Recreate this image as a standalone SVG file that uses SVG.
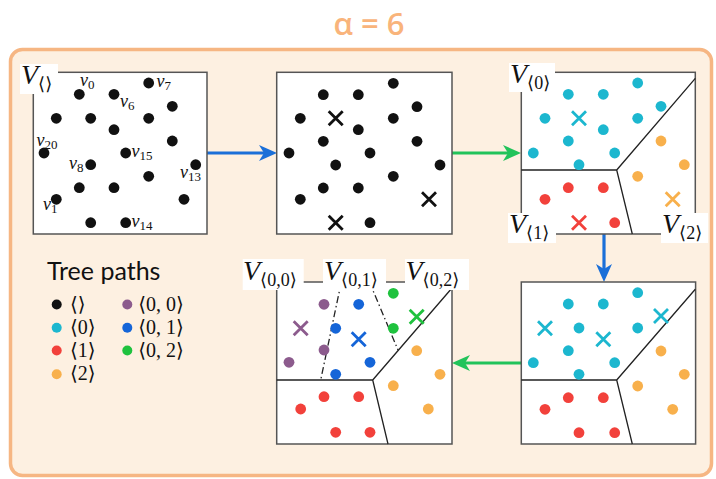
<svg xmlns="http://www.w3.org/2000/svg" xmlns:xlink="http://www.w3.org/1999/xlink" width="716" height="479" viewBox="0 0 716 479">
<style>
.panel{fill:#fff;stroke:#555;stroke-width:1.5}
.part{fill:none;stroke:#222;stroke-width:1.3}
.dd{fill:none;stroke:#222;stroke-width:1.3;stroke-dasharray:7 3 1.5 3}
.lbl{fill:#fff;stroke:none}
.V{font-family:"Liberation Serif","DejaVu Serif",serif;font-style:italic;font-size:28px;fill:#111}
.sub{font-family:"Liberation Serif","DejaVu Serif",serif;font-style:normal;font-size:18px;fill:#111}
.v{font-family:"Liberation Serif","DejaVu Serif",serif;font-style:italic;font-size:18px;fill:#111}
.vs{font-style:normal;font-size:13px}
.k{fill:#111}.c{fill:#1cb7cf}.r{fill:#f2413b}.o{fill:#f8b04c}.p{fill:#8c5b8d}.b{fill:#1565d8}.g{fill:#1fc23e}
.xk{stroke:#111}.xc{stroke:#1cb7cf}.xr{stroke:#f2413b}.xo{stroke:#f8b04c}.xp{stroke:#8c5b8d}.xb{stroke:#1565d8}.xg{stroke:#1fc23e}
.leg{font-family:"Liberation Serif","DejaVu Serif",serif;font-size:20px;fill:#111}
.arb{stroke:#1b6fd8;stroke-width:3.2;fill:none}
.arg{stroke:#22c35a;stroke-width:3.2;fill:none}
</style>
<defs>
<path id="xm" d="M-7,-7L7,7M7,-7L-7,7" fill="none" stroke-width="2.8"/>
<marker id="hb" viewBox="0 0 18 16" refX="10" refY="8" markerWidth="18" markerHeight="16" markerUnits="userSpaceOnUse" orient="auto"><path d="M0,0L18,8L0,16L5,8Z" fill="#1b6fd8"/></marker>
<marker id="hg" viewBox="0 0 18 16" refX="10" refY="8" markerWidth="18" markerHeight="16" markerUnits="userSpaceOnUse" orient="auto"><path d="M0,0L18,8L0,16L5,8Z" fill="#22c35a"/></marker>
</defs>

<text x="369" y="35" text-anchor="middle" font-family="Open Sans, sans-serif" font-size="31" font-weight="600" fill="#f9b47b">α = 6</text>
<rect x="10.5" y="49.5" width="701" height="426" rx="12" fill="#fdf0e1" stroke="#f6b683" stroke-width="3.5"/>

<g id="connectors">
<line class="arb" x1="207" y1="153" x2="269" y2="153" marker-end="url(#hb)"/>
<line class="arg" x1="452" y1="153" x2="513" y2="153" marker-end="url(#hg)"/>
<line class="arb" x1="604" y1="234" x2="604" y2="274" marker-end="url(#hb)"/>
<line class="arg" x1="521" y1="363" x2="460" y2="363" marker-end="url(#hg)"/>
</g>

<g id="panel-root">
<rect class="panel" x="33.3" y="72.3" width="173.7" height="161.7"/>
<g class="k">
<circle cx="79.3" cy="94.3" r="5.4"/><circle cx="114" cy="94.3" r="5.4"/><circle cx="148.7" cy="83" r="5.4"/><circle cx="172.3" cy="106.3" r="5.4"/>
<circle cx="56.3" cy="118.3" r="5.4"/><circle cx="90.7" cy="118.3" r="5.4"/><circle cx="148.7" cy="118.3" r="5.4"/><circle cx="114" cy="129.7" r="5.4"/>
<circle cx="172.3" cy="141" r="5.4"/><circle cx="44" cy="153" r="5.4"/><circle cx="125.7" cy="153" r="5.4"/><circle cx="90.7" cy="164.7" r="5.4"/>
<circle cx="195.7" cy="164.7" r="5.4"/><circle cx="148.7" cy="176.3" r="5.4"/><circle cx="79.3" cy="187.7" r="5.4"/><circle cx="114" cy="187.7" r="5.4"/>
<circle cx="56.3" cy="199.3" r="5.4"/><circle cx="184" cy="199.3" r="5.4"/><circle cx="90.7" cy="222.7" r="5.4"/><circle cx="125.7" cy="222.7" r="5.4"/>
</g>
<text class="v" x="80" y="85.5">v<tspan class="vs" dy="3">0</tspan></text>
<text class="v" x="156.5" y="86.5">v<tspan class="vs" dy="3">7</tspan></text>
<text class="v" x="120" y="106.5">v<tspan class="vs" dy="3">6</tspan></text>
<text class="v" x="36.5" y="146">v<tspan class="vs" dy="3">20</tspan></text>
<text class="v" x="131.5" y="156.5">v<tspan class="vs" dy="3">15</tspan></text>
<text class="v" x="69" y="168.5">v<tspan class="vs" dy="3">8</tspan></text>
<text class="v" x="180" y="178">v<tspan class="vs" dy="3">13</tspan></text>
<text class="v" x="43" y="210">v<tspan class="vs" dy="3">1</tspan></text>
<text class="v" x="131.5" y="226.5">v<tspan class="vs" dy="3">14</tspan></text>
<rect class="lbl" x="20" y="64" width="38" height="30"/>
<text class="V" x="21" y="84">V<tspan class="sub" dy="6">⟨⟩</tspan></text>
</g>

<g id="panel-centers">
<rect class="panel" x="276.7" y="72.3" width="175.3" height="161.7"/>
<g class="k">
<circle cx="323.3" cy="94.7" r="5.4"/><circle cx="358.3" cy="94.7" r="5.4"/><circle cx="393.3" cy="83.3" r="5.4"/><circle cx="417" cy="106.7" r="5.4"/>
<circle cx="300.3" cy="118.3" r="5.4"/><circle cx="393.3" cy="118.3" r="5.4"/><circle cx="358.3" cy="129.7" r="5.4"/>
<circle cx="323.3" cy="141.3" r="5.4"/><circle cx="417" cy="141.3" r="5.4"/><circle cx="289" cy="153" r="5.4"/><circle cx="370" cy="153" r="5.4"/>
<circle cx="335.7" cy="165" r="5.4"/><circle cx="440" cy="165" r="5.4"/><circle cx="393.3" cy="176.3" r="5.4"/><circle cx="323.3" cy="188" r="5.4"/>
<circle cx="358.3" cy="188" r="5.4"/><circle cx="300.3" cy="199.3" r="5.4"/><circle cx="370" cy="222.7" r="5.4"/>
</g>
<use href="#xm" class="xk" x="335.7" y="118.3"/>
<use href="#xm" class="xk" x="429" y="199.3"/>
<use href="#xm" class="xk" x="335.7" y="222.7"/>
</g>

<g id="panel-level1">
<rect class="panel" x="521.3" y="72.3" width="174" height="161.7"/>
<path class="part" d="M521.3,170H616.7L695.3,78.3M616.7,170L632.3,234"/>
<g class="c">
<circle cx="637.7" cy="83" r="5.4"/><circle cx="568.3" cy="94.3" r="5.4"/><circle cx="603.3" cy="94.3" r="5.4"/><circle cx="661" cy="106.3" r="5.4"/>
<circle cx="545" cy="118.3" r="5.4"/><circle cx="637.7" cy="118.3" r="5.4"/><circle cx="603.3" cy="129.7" r="5.4"/><circle cx="568.3" cy="141" r="5.4"/>
<circle cx="533.3" cy="153" r="5.4"/><circle cx="614.7" cy="153" r="5.4"/><circle cx="579" cy="164.7" r="5.4"/>
</g>
<g class="o"><circle cx="661" cy="141" r="5.4"/><circle cx="684.3" cy="164.7" r="5.4"/><circle cx="637.7" cy="176.3" r="5.4"/></g>
<g class="r"><circle cx="568.3" cy="187.7" r="5.4"/><circle cx="603.3" cy="187.7" r="5.4"/><circle cx="545" cy="199.3" r="5.4"/><circle cx="614.7" cy="222.7" r="5.4"/></g>
<use href="#xm" class="xc" x="579" y="118.3"/>
<use href="#xm" class="xo" x="672.7" y="199.3"/>
<use href="#xm" class="xr" x="579" y="222.7"/>
<rect class="lbl" x="509" y="63" width="46" height="29"/>
<text class="V" x="510" y="82.5">V<tspan class="sub" dy="6">⟨0⟩</tspan></text>
<rect class="lbl" x="508" y="213" width="48" height="30"/>
<text class="V" x="509" y="232.5">V<tspan class="sub" dy="6">⟨1⟩</tspan></text>
<rect class="lbl" x="661" y="213" width="47" height="30"/>
<text class="V" x="662" y="232.5">V<tspan class="sub" dy="6">⟨2⟩</tspan></text>
</g>

<g id="panel-subcenters">
<rect class="panel" x="521.3" y="282" width="174.3" height="162"/>
<path class="part" d="M521.3,380H616.7L695.3,289.3M616.7,380L632.3,444"/>
<g class="c">
<circle cx="637.7" cy="292.7" r="5.4"/><circle cx="568.3" cy="304" r="5.4"/><circle cx="603.3" cy="304" r="5.4"/>
<circle cx="579" cy="328" r="5.4"/><circle cx="637.7" cy="328" r="5.4"/><circle cx="568.3" cy="350.7" r="5.4"/>
<circle cx="533.3" cy="362.7" r="5.4"/><circle cx="614.7" cy="362.7" r="5.4"/><circle cx="579" cy="374.3" r="5.4"/>
</g>
<g class="o"><circle cx="661" cy="351" r="5.4"/><circle cx="684.3" cy="374.3" r="5.4"/><circle cx="637.7" cy="386" r="5.4"/><circle cx="672.7" cy="409.3" r="5.4"/></g>
<g class="r"><circle cx="568.3" cy="397.7" r="5.4"/><circle cx="603.3" cy="397.7" r="5.4"/><circle cx="545" cy="409.3" r="5.4"/><circle cx="579" cy="432.7" r="5.4"/><circle cx="614.7" cy="432.7" r="5.4"/></g>
<use href="#xm" class="xc" x="661" y="316"/>
<use href="#xm" class="xc" x="545" y="328.3"/>
<use href="#xm" class="xc" x="603.3" y="339.3"/>
</g>

<g id="panel-level2">
<rect class="panel" x="276.7" y="282" width="175.3" height="162"/>
<path class="part" d="M276.7,380H372.7L452,288M372.7,380L388,444"/>
<path class="dd" d="M341.3,282L320.7,380M369.4,282L398,350"/>
<g class="p"><circle cx="324" cy="304.3" r="5.4"/><circle cx="324" cy="350" r="5.4"/><circle cx="289" cy="362.3" r="5.4"/></g>
<g class="b"><circle cx="358.7" cy="304.3" r="5.4"/><circle cx="335.7" cy="328.3" r="5.4"/><circle cx="370" cy="362.3" r="5.4"/><circle cx="335.7" cy="374.3" r="5.4"/></g>
<g class="g"><circle cx="393.3" cy="293.3" r="5.4"/><circle cx="393.3" cy="328.3" r="5.4"/></g>
<g class="o"><circle cx="416.7" cy="350.7" r="5.4"/><circle cx="440" cy="374.3" r="5.4"/><circle cx="393.3" cy="385.7" r="5.4"/><circle cx="428.3" cy="409" r="5.4"/></g>
<g class="r"><circle cx="324" cy="396.7" r="5.4"/><circle cx="358.7" cy="396.7" r="5.4"/><circle cx="300.7" cy="409" r="5.4"/><circle cx="335.7" cy="432.3" r="5.4"/><circle cx="370" cy="432.3" r="5.4"/></g>
<use href="#xm" class="xp" x="300.7" y="328.3"/>
<use href="#xm" class="xb" x="358.7" y="339.3"/>
<use href="#xm" class="xg" x="416.7" y="316.7"/>
<rect class="lbl" x="242.7" y="259" width="61" height="31"/>
<text class="V" x="243" y="280">V<tspan class="sub" dy="6">⟨0,0⟩</tspan></text>
<rect class="lbl" x="323" y="259" width="63" height="31"/>
<text class="V" x="324" y="280">V<tspan class="sub" dy="6">⟨0,1⟩</tspan></text>
<rect class="lbl" x="405" y="259" width="64" height="31"/>
<text class="V" x="405.5" y="280">V<tspan class="sub" dy="6">⟨0,2⟩</tspan></text>
</g>

<g id="legend">
<text x="47" y="280" font-family="Lato, sans-serif" font-size="25" fill="#111">Tree paths</text>
<circle class="k" cx="56.7" cy="304.5" r="5"/><text class="leg" x="70" y="311">⟨⟩</text>
<circle class="c" cx="56.7" cy="327.7" r="5"/><text class="leg" x="70" y="333.5">⟨0⟩</text>
<circle class="r" cx="56.7" cy="350.5" r="5"/><text class="leg" x="70" y="356.5">⟨1⟩</text>
<circle class="o" cx="56.7" cy="374.3" r="5"/><text class="leg" x="70" y="380">⟨2⟩</text>
<circle class="p" cx="127.3" cy="304.5" r="5"/><text class="leg" x="138.3" y="311">⟨0, 0⟩</text>
<circle class="b" cx="127.3" cy="327.7" r="5"/><text class="leg" x="138.3" y="333.5">⟨0, 1⟩</text>
<circle class="g" cx="127.3" cy="350.5" r="5"/><text class="leg" x="138.3" y="356.5">⟨0, 2⟩</text>
</g>
</svg>
